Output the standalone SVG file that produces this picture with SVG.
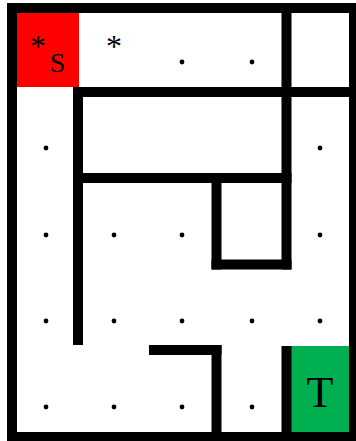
<svg xmlns="http://www.w3.org/2000/svg" width="356" height="441" viewBox="0 0 356 441">
  <style>
    .wall { fill: #000000; }
    .dot { fill: #000000; }
    .lbl { font-family: "Liberation Serif", "Times New Roman", serif; fill: #000000; text-anchor: middle; }
  </style>
  <rect x="0" y="0" width="356" height="441" fill="#ffffff"/>
  <g id="start-cell">
    <rect x="17" y="13" width="62" height="74" fill="#ff0000"/>
    <text class="lbl" x="38" y="57" font-size="32">*</text>
    <text class="lbl" x="57.5" y="72" font-size="28">S</text>
  </g>
  <g id="target-cell">
    <rect x="291" y="346" width="58" height="86" fill="#00b050"/>
    <text class="lbl" x="320" y="407" font-size="44">T</text>
  </g>
  <g id="visited">
    <text class="lbl" x="114" y="57" font-size="32">*</text>
  </g>
  <g id="dots">
    <circle class="dot" cx="182" cy="62" r="2.4"/>
    <circle class="dot" cx="252" cy="62" r="2.4"/>
    <circle class="dot" cx="46" cy="148" r="2.4"/>
    <circle class="dot" cx="320" cy="148" r="2.4"/>
    <circle class="dot" cx="46" cy="235" r="2.4"/>
    <circle class="dot" cx="114" cy="235" r="2.4"/>
    <circle class="dot" cx="182" cy="235" r="2.4"/>
    <circle class="dot" cx="320" cy="235" r="2.4"/>
    <circle class="dot" cx="46" cy="321" r="2.4"/>
    <circle class="dot" cx="114" cy="321" r="2.4"/>
    <circle class="dot" cx="182" cy="321" r="2.4"/>
    <circle class="dot" cx="252" cy="321" r="2.4"/>
    <circle class="dot" cx="320" cy="321" r="2.4"/>
    <circle class="dot" cx="46" cy="407" r="2.4"/>
    <circle class="dot" cx="114" cy="407" r="2.4"/>
    <circle class="dot" cx="182" cy="407" r="2.4"/>
    <circle class="dot" cx="252" cy="407" r="2.4"/>
  </g>
  <g id="walls">
    <rect x="12" y="8" width="342" height="429" fill="none" stroke="#000000" stroke-width="10"/>
    <rect class="wall" x="73" y="87" width="10" height="258"/>
    <rect class="wall" x="73" y="87" width="276" height="10"/>
    <rect class="wall" x="78" y="173" width="213.5" height="10"/>
    <rect class="wall" x="281.5" y="13" width="10" height="256.5"/>
    <rect class="wall" x="211.5" y="173" width="10" height="96.5"/>
    <rect class="wall" x="211.5" y="259.5" width="80" height="10"/>
    <rect class="wall" x="149" y="345" width="72.5" height="10"/>
    <rect class="wall" x="211.5" y="345" width="10" height="87"/>
    <rect class="wall" x="281.5" y="346" width="10" height="86"/>
  </g>
</svg>
